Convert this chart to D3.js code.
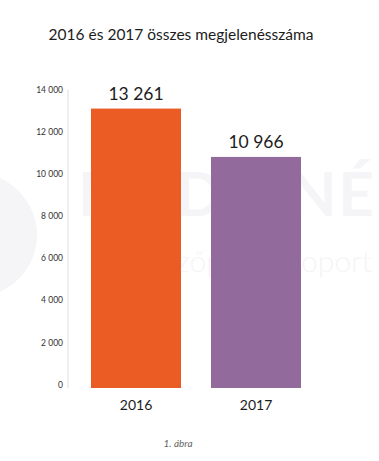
<!DOCTYPE html>
<html>
<head>
<meta charset="utf-8">
<script src="https://cdn.jsdelivr.net/npm/d3@7"></script>
<style>
  body { margin: 0; background: #fff; }
  svg { display: block; font-family: Lato, "Open Sans", sans-serif; }
</style>
</head>
<body>
<svg id="chart" width="379" height="461"></svg>
<script>
const years = ["2016", "2017"];
const totals = [13261, 10966];
const barColors = ["#eb5b24", "#926a9b"];
const yTicks = [0, 2000, 4000, 6000, 8000, 10000, 12000, 14000];

const svg = d3.select("#chart");
const fmt = v => d3.format(",")(v).replace(/,/g, " ");

// faint watermark behind the bars
const wm = svg.append("g").attr("fill", "#f5f4f7");
wm.append("circle").attr("cx", -25).attr("cy", 235).attr("r", 62);
wm.append("text").attr("x", 78).attr("y", 216)
    .attr("textLength", 296).attr("lengthAdjust", "spacing")
    .style("font-size", "62px").style("font-weight", 700)
    .text("MEDIANÉ");
wm.append("text").attr("x", 372).attr("y", 272)
    .attr("text-anchor", "end")
    .style("font-size", "30px").style("font-weight", 300)
    .text("Nézőpont csoport");

svg.append("text")
    .attr("x", 181).attr("y", 40)
    .attr("text-anchor", "middle")
    .attr("fill", "#1c1c1c")
    .style("font-size", "15.5px")
    .text("2016 és 2017 összes megjelenésszáma");

const x = d3.scaleBand()
    .domain(years)
    .range([76, 316])
    .paddingInner(0.25)
    .paddingOuter(0.125);

const y = d3.scaleLinear()
    .domain([0, 14000])
    .range([388, 93]);

// y axis
const yAxis = svg.append("g")
    .attr("transform", "translate(68,0)")
    .call(d3.axisLeft(y).tickValues(yTicks).tickSize(0).tickPadding(5).tickFormat(fmt));
yAxis.select(".domain").attr("stroke", "#e6d9db").attr("d", `M0,${y(14000) - 3}V${y(0)}`);
yAxis.selectAll("text")
    .attr("fill", "#333")
    .attr("dy", "-0.1em")
    .style("font-size", "8.5px")
    .style("font-family", "Lato, sans-serif");

svg.append("g")
    .selectAll("rect")
    .data(years)
    .join("rect")
    .attr("x", d => x(d))
    .attr("width", x.bandwidth())
    .attr("y", (d, i) => y(totals[i]))
    .attr("height", (d, i) => y(0) - y(totals[i]))
    .attr("fill", (d, i) => barColors[i]);

svg.append("g")
    .selectAll("text")
    .data(years)
    .join("text")
    .attr("x", d => x(d) + x.bandwidth() / 2)
    .attr("y", (d, i) => y(totals[i]) - 9)
    .attr("text-anchor", "middle")
    .attr("fill", "#1c1c1c")
    .style("font-size", "17.5px")
    .text((d, i) => fmt(totals[i]));

// x labels
svg.append("g")
    .attr("transform", `translate(0,${y(0)})`)
    .call(d3.axisBottom(x).tickSize(0).tickPadding(12))
    .call(g => g.select(".domain").remove())
    .selectAll("text")
    .attr("fill", "#1c1c1c")
    .style("font-size", "14px")
    .style("font-family", "Lato, sans-serif");

svg.append("text")
    .attr("x", 178).attr("y", 447)
    .attr("text-anchor", "middle")
    .attr("fill", "#666")
    .style("font-size", "10px")
    .style("font-style", "italic")
    .text("1. ábra");
</script>
</body>
</html>
